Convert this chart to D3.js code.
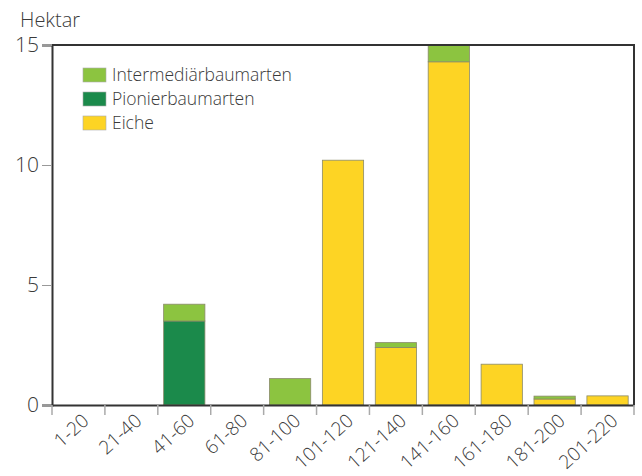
<!DOCTYPE html>
<html>
<head>
<meta charset="utf-8">
<script src="https://cdn.jsdelivr.net/npm/d3@7"></script>
<style>
	body { margin: 0; background: #fff; }
	text { font-family: "Open Sans", sans-serif; font-weight: 300; fill: #3a3a3a; }
</style>
</head>
<body>
<div id="chart"></div>
<script>
const categories = ["1-20", "21-40", "41-60", "61-80", "81-100", "101-120", "121-140", "141-160", "161-180", "181-200", "201-220"];
const eiche = [0, 0, 0, 0, 0, 10.2, 2.4, 14.3, 1.7, 0.25, 0.38];
const pionier = [0, 0, 3.5, 0, 0, 0, 0, 0, 0, 0, 0];
const intermediaer = [0, 0, 0.7, 0, 1.1, 0, 0.2, 0.7, 0, 0.12, 0];
const yTicks = [0, 5, 10, 15];

const series = [
	{ key: "eiche", name: "Eiche", values: eiche, color: "#fdd424" },
	{ key: "pionier", name: "Pionierbaumarten", values: pionier, color: "#1b8a4b" },
	{ key: "intermediaer", name: "Intermediärbaumarten", values: intermediaer, color: "#8cc440" }
];

const width = 642;
const height = 476;
const margin = { top: 45, right: 8, bottom: 71, left: 52 };

const table = categories.map((c, i) => {
	const row = { cat: c };
	series.forEach((s) => row[s.key] = s.values[i]);
	return row;
});

const stacked = d3.stack().keys(series.map((s) => s.key))(table);

const svg = d3.select("#chart")
				.append("svg")
					.attr("width", width)
					.attr("height", height);

const x = d3.scaleBand()
				.domain(categories)
				.range([margin.left, width - margin.right])
				.paddingInner(0.22)
				.paddingOuter(0.11);

const y = d3.scaleLinear()
				.domain([0, 15])
				.range([height - margin.bottom, margin.top]);

// bars
svg.append("g")
	.selectAll("g")
		.data(stacked).enter()
	.append("g")
		.attr("fill", (d, i) => series[i].color)
	.selectAll("rect")
		.data((d) => d.filter((e) => e[1] - e[0] > 0)).enter()
	.append("rect")
		.attr("x", (d) => x(d.data.cat))
		.attr("width", x.bandwidth())
		.attr("y", (d) => y(d[1]))
		.attr("height", (d) => y(d[0]) - y(d[1]))
		.attr("stroke", "#8a8a6a")
		.attr("stroke-width", 0.8);

// frame top / right
svg.append("path")
	.attr("d", `M${margin.left},${y(15)}H${width - margin.right}V${y(0)}`)
	.attr("fill", "none")
	.attr("stroke", "#333")
	.attr("stroke-width", 2);

// y axis
const yAxis = svg.append("g")
	.attr("transform", `translate(${margin.left},0)`)
	.call(d3.axisLeft(y).tickValues(yTicks).tickSize(10).tickPadding(3));
yAxis.select(".domain").attr("stroke", "#333").attr("stroke-width", 2);
yAxis.selectAll(".tick line").attr("stroke", "#999");
yAxis.selectAll(".tick text")
	.attr("font-size", 21)
	.attr("font-family", "Open Sans, sans-serif")
	.attr("fill", "#3a3a3a");

// x axis
const xAxis = svg.append("g")
	.attr("transform", `translate(0,${y(0)})`)
	.call(d3.axisBottom(x).tickSize(0).tickFormat(""));
xAxis.select(".domain").attr("stroke", "#333").attr("stroke-width", 2);
xAxis.selectAll(".tick").remove();

// boundary ticks
const bounds = categories.map((c) => x(c) - x.step() * x.paddingInner() / 2);
bounds.push(width - margin.right);
svg.append("g")
	.selectAll("line")
		.data(bounds).enter()
	.append("line")
		.attr("x1", (d) => d).attr("x2", (d) => d)
		.attr("y1", y(0)).attr("y2", y(0) + 10)
		.attr("stroke", "#aaa")
		.attr("stroke-width", 1.5);

svg.append("g")
	.selectAll("text")
		.data(categories).enter()
	.append("text")
		.attr("transform", (d) => `translate(${x(d) + x.bandwidth() / 2 + 4},${y(0) + 9}) rotate(-42)`)
		.attr("text-anchor", "end")
		.attr("dy", "0.6em")
		.attr("font-size", 19)
		.text((d) => d);

// axis title
svg.append("text")
	.attr("x", 20)
	.attr("y", 27)
	.attr("font-size", 20)
	.text("Hektar");

// legend
const legend = svg.append("g")
	.selectAll("g")
		.data(series.slice().reverse()).enter()
	.append("g")
		.attr("transform", (d, i) => `translate(83,${68 + i * 24})`);

legend.append("rect")
	.attr("width", 23)
	.attr("height", 14)
	.attr("fill", (d) => d.color)
	.attr("stroke", "#aaa")
	.attr("stroke-width", 0.6);

legend.append("text")
	.attr("x", 29)
	.attr("y", 7)
	.attr("dy", "0.35em")
	.attr("font-size", 17.5)
	.text((d) => d.name);
</script>
</body>
</html>
